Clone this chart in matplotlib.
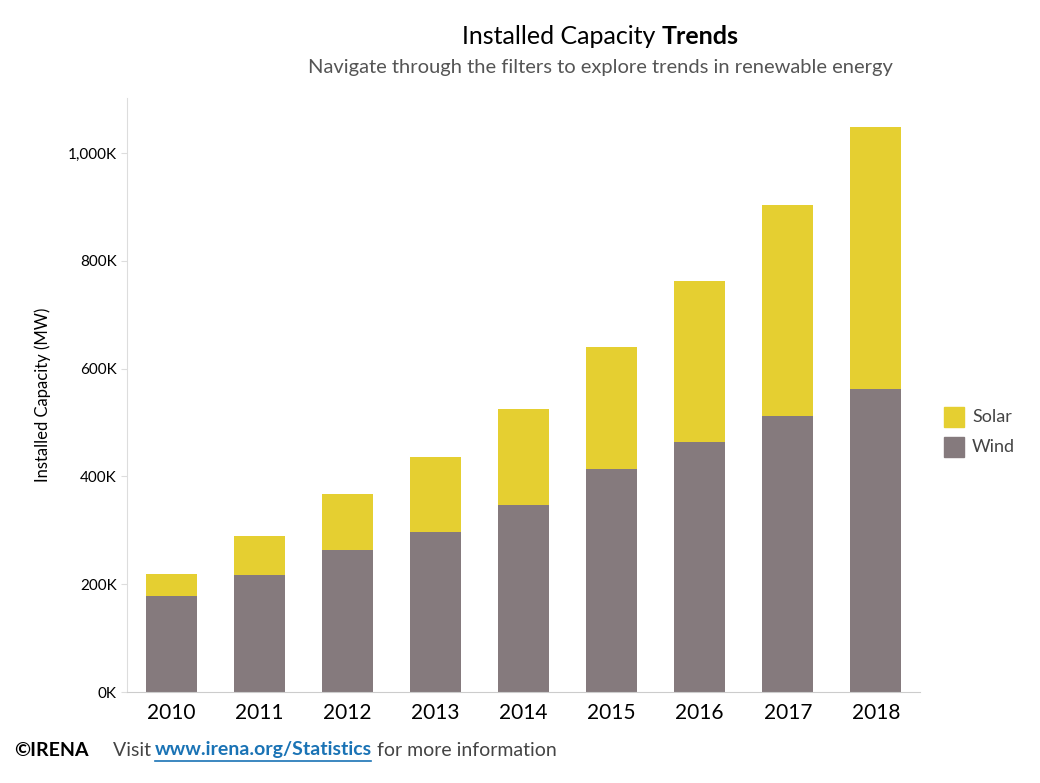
import matplotlib
matplotlib.use("Agg")
import matplotlib.pyplot as plt

plt.rcParams["font.family"] = ["Lato", "DejaVu Sans"]

years = ["2010", "2011", "2012", "2013", "2014", "2015", "2016", "2017", "2018"]
wind = [178, 217, 263, 297, 347, 414, 464, 512, 562]
total = [219, 289, 367, 436, 525, 640, 762, 903, 1048]
solar = [t - w for t, w in zip(total, wind)]

WIND_COLOR = "#857a7d"
SOLAR_COLOR = "#e5cf31"

fig = plt.figure(figsize=(10.4, 7.83), dpi=100)
ax = fig.add_axes([127 / 1040, 1 - 692 / 783, 793 / 1040, 594 / 783])

x = range(len(years))
ax.bar(x, wind, width=0.58, color=WIND_COLOR)
ax.bar(x, solar, bottom=wind, width=0.58, color=SOLAR_COLOR)

ax.set_xlim(-0.5, len(years) - 0.5)
ax.set_ylim(0, 1102)
ax.set_yticks([0, 200, 400, 600, 800, 1000])
ax.set_yticklabels(["0K", "200K", "400K", "600K", "800K", "1,000K"], fontsize=11)
ax.set_xticks(list(x))
ax.set_xticklabels(years, fontsize=15)
ax.set_ylabel("Installed Capacity (MW)", fontsize=12, labelpad=12)
for side in ["top", "right"]:
    ax.spines[side].set_visible(False)
ax.spines["left"].set_color("#dddddd")
ax.spines["bottom"].set_color("#cccccc")
ax.tick_params(axis="y", length=4, color="#dddddd")
ax.tick_params(axis="x", length=0, pad=8)

# title
fig.text(662 / 1040, 1 - 36 / 783, "Installed Capacity ", ha="right", va="center", fontsize=18)
fig.text(662 / 1040, 1 - 36 / 783, "Trends", ha="left", va="center", fontsize=18, fontweight="bold")
fig.text(0.577, 1 - 68 / 783, "Navigate through the filters to explore trends in renewable energy",
         ha="center", va="center", fontsize=14.5, color="#555555")

# legend
for i, (name, color) in enumerate([("Solar", SOLAR_COLOR), ("Wind", WIND_COLOR)]):
    yc = 1 - (417 + 30 * i) / 783
    fig.patches.append(plt.Rectangle((944 / 1040, yc - 10 / 783), 20 / 1040, 20 / 783,
                                     transform=fig.transFigure, color=color))
    fig.text(972 / 1040, yc, name, va="center", fontsize=13, color="#444444")

# footer
fig.text(14 / 1040, 1 - 750 / 783, "©IRENA", va="center", fontsize=14, fontweight="bold")
fig.text(113 / 1040, 1 - 750 / 783, "Visit ", va="center", fontsize=14, color="#444444")
fig.text(155 / 1040, 1 - 750 / 783, "www.irena.org/Statistics", va="center", fontsize=14,
         fontweight="bold", color="#1a73b5")
fig.text(377 / 1040, 1 - 750 / 783, "for more information", va="center", fontsize=14, color="#444444")
fig.lines.append(plt.Line2D([155 / 1040, 371 / 1040], [1 - 761 / 783] * 2,
                            transform=fig.transFigure, color="#1a73b5", lw=1.2))

fig.savefig("out.png", dpi=100)
